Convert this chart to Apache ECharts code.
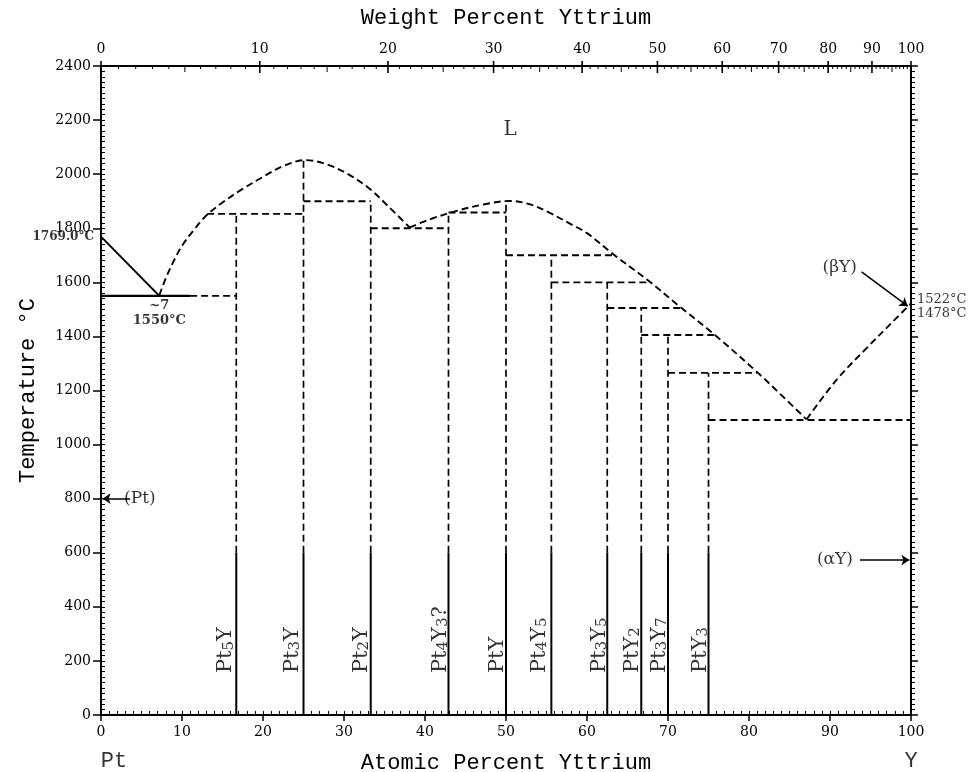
<!DOCTYPE html>
<html>
<head>
<meta charset="utf-8">
<title>Pt-Y phase diagram</title>
<script src="https://cdn.jsdelivr.net/npm/echarts@6/dist/echarts.min.js"></script>
<style>
  html, body { margin: 0; padding: 0; background: #fff; }
  #chart_ptY { width: 979px; height: 772px; }
</style>
</head>
<body>
<div id="chart_ptY"></div>
<script>
  // intermetallic compounds (line compounds), subscripts written as rich text
  const compoundNames = ['Pt{s|5}Y', 'Pt{s|3}Y', 'Pt{s|2}Y', 'Pt{s|4}Y{s|3}?', 'PtY', 'Pt{s|4}Y{s|5}',
                         'Pt{s|3}Y{s|5}', 'PtY{s|2}', 'Pt{s|3}Y{s|7}', 'PtY{s|3}'];
  const compoundX = [16.7, 25, 33.3, 42.9, 50, 55.6, 62.5, 66.7, 70, 75];
  const compoundTop = [1853, 2052, 1900, 1858, 1901, 1700, 1600, 1505, 1405, 1265];
  const compoundLabelX = [15.1, 23.3, 31.8, 41.6, 48.6, 53.8, 61.2, 65.3, 68.6, 73.7];
  const solidBelow = 600;

  // horizontal (invariant) lines
  const invT    = [1550, 1853, 1900, 1800, 1858, 1700, 1600, 1505, 1405, 1265, 1091];
  const invFrom = [11,   13.1, 25,   33.3, 42.9, 50,   55.6, 62.5, 66.7, 70,   75];
  const invTo   = [16.7, 25,   33.3, 42.9, 50,   63.2, 67.8, 71.5, 75.8, 81,   100];

  // liquidus
  const ptLiqX = [0, 7.2];
  const ptLiqT = [1769, 1550];
  const liq1X = [7.2, 8, 9, 10, 11.5, 13.1, 15, 17.2, 20, 22.5, 25.3, 28, 30.5, 33, 35.5, 38.1];
  const liq1T = [1552, 1615, 1680, 1735, 1795, 1850, 1895, 1940, 1990, 2030, 2052, 2035, 2000, 1950, 1880, 1803];
  const liq2X = [38.1, 40.5, 43.9, 47.2, 50.5, 53, 55.4, 58, 60, 63.2, 67.8, 71.5, 75.8, 81, 84, 87.1];
  const liq2T = [1803, 1832, 1864, 1888, 1901, 1888, 1857, 1815, 1782, 1705, 1601, 1509, 1405, 1268, 1183, 1093];
  const liq3X = [87.1, 90.8, 94.3, 99, 100];
  const liq3T = [1093, 1239, 1350, 1492, 1522];

  // top axis: weight percent ticks
  const wtTicks = [];
  for (let w = 0; w <= 100; w++) wtTicks.push(w);
  const massPt = 195.08, massY = 88.906;
  function atFromWt(w) {
    const y = w / massY, p = (100 - w) / massPt;
    return 100 * y / (y + p);
  }

  const serif = '"DejaVu Serif", serif';
  const mono = '"Liberation Mono", "DejaVu Sans Mono", monospace';
  const dash = [7, 4];

  function seg(points, type, width) {
    return {
      type: 'line', data: points, symbol: 'none', silent: true, animation: false,
      lineStyle: { color: '#000', width: width, type: type }
    };
  }
  const zip = (xs, ts) => xs.map((x, i) => [x, ts[i]]);

  let series = [];
  series.push(seg(zip(ptLiqX, ptLiqT), 'solid', 2));
  series.push(seg([[0, 1550], [invFrom[0], 1550]], 'solid', 2.2));
  compoundX.forEach((x, i) => {
    series.push(seg([[x, 0], [x, solidBelow]], 'solid', 2));
    series.push(seg([[x, solidBelow], [x, compoundTop[i]]], dash, 1.7));
  });
  invT.forEach((t, i) => {
    series.push(seg([[invFrom[i], t], [invTo[i], t]], dash, 1.9));
  });
  [zip(liq1X, liq1T), zip(liq2X, liq2T), zip(liq3X, liq3T)].forEach(d => {
    const s = seg(d, dash, 1.9);
    s.smooth = 0.35;
    series.push(s);
  });

  // compound labels
  series.push({
    type: 'scatter', symbolSize: 0, silent: true, animation: false,
    data: compoundNames.map((n, i) => ({ name: n, value: [compoundLabelX[i], 155] })),
    label: {
      show: true, position: 'inside', rotate: 90,
      align: 'left', verticalAlign: 'middle',
      formatter: p => p.name.split('{').map((t, k) => {
        if (k === 0) return '{n|' + t + '}';
        const parts = t.split('}');
        return '{' + parts[0] + '}' + (parts[1] ? '{n|' + parts[1] + '}' : '');
      }).join(''),
      rich: {
        n: { fontFamily: serif, fontSize: 21, color: '#000', lineHeight: 26, verticalAlign: 'bottom' },
        s: { fontFamily: serif, fontSize: 15, color: '#000', lineHeight: 12, verticalAlign: 'bottom' }
      }
    }
  });

  // annotations
  const notes = [
    { name: 'L', value: [50.5, 2165], label: { fontSize: 20 } },
    { name: '1769.0°C', value: [0, 1769], label: { position: 'left', distance: 7, fontSize: 12, fontWeight: 'bold' } },
    { name: '~7\n1550°C', value: [7.2, 1550], label: { position: 'bottom', distance: 2, fontSize: 13, lineHeight: 15, fontWeight: 'bold' } },
    { name: '1522°C', value: [100, 1535], label: { position: 'right', distance: 6, fontSize: 13 } },
    { name: '1478°C', value: [100, 1483], label: { position: 'right', distance: 6, fontSize: 13 } },
    { name: '(Pt)', value: [4.8, 802], label: { fontSize: 17 } },
    { name: '(βY)', value: [91.2, 1653], label: { fontSize: 17 } },
    { name: '(αY)', value: [90.6, 573], label: { fontSize: 17 } },
    { name: 'Pt', value: [1.6, 0], label: { position: 'bottom', distance: 35, fontSize: 22, fontFamily: mono } },
    { name: 'Y', value: [100, 0], label: { position: 'bottom', distance: 35, fontSize: 22, fontFamily: mono } }
  ];
  series.push({
    type: 'scatter', symbolSize: 0, silent: true, animation: false, clip: false,
    data: notes,
    label: { show: true, formatter: '{b}', position: 'inside', fontFamily: serif, color: '#000' }
  });

  // arrows
  series.push({
    type: 'lines', coordinateSystem: 'cartesian2d', silent: true, animation: false,
    symbol: ['none', 'arrow'], symbolSize: 8,
    lineStyle: { color: '#000', width: 1.5, opacity: 1, curveness: 0 },
    data: [
      { coords: [[3.6, 800], [0.2, 800]] },
      { coords: [[93.7, 573], [99.8, 573]] },
      { coords: [[93.9, 1639], [99.6, 1512]] }
    ]
  });

  // top weight-percent ticks
  series.push({
    type: 'custom', silent: true, animation: false, clip: false,
    data: wtTicks.map(w => [w, 2400]),
    renderItem: function (params, api) {
      const w = api.value(0);
      const p = api.coord([atFromWt(w), 2400]);
      const major = w % 10 === 0, mid = w % 5 === 0;
      const children = [{
        type: 'line',
        shape: { x1: p[0], y1: p[1] - (major ? 5 : 0), x2: p[0], y2: p[1] + (major ? 7 : mid ? 6 : 3) },
        style: { stroke: '#000', lineWidth: major ? 1.6 : 1 }
      }];
      if (major) {
        children.push({
          type: 'text',
          style: { text: String(w), x: p[0], y: p[1] - 10, align: 'center', verticalAlign: 'bottom',
                   fontFamily: serif, fontSize: 14, fill: '#000' }
        });
      }
      return { type: 'group', children: children };
    }
  });

  const axisLine = { show: true, onZero: false, lineStyle: { color: '#000', width: 2 } };
  const noLine = { show: false };

  const chart = echarts.init(document.getElementById('chart_ptY'));
  chart.setOption({
    animation: false,
    backgroundColor: '#fff',
    grid: { left: 101, right: 68, top: 66, bottom: 57, containLabel: false, outerBoundsMode: 'none' },
    xAxis: [
      {
        type: 'value', position: 'bottom', min: 0, max: 100, interval: 10,
        axisLine: axisLine,
        axisTick: { show: true, length: 6, lineStyle: { color: '#000', width: 1.5 } },
        axisLabel: { color: '#000', fontFamily: serif, fontSize: 14, margin: 10 },
        splitLine: { show: false },
        name: 'Atomic Percent Yttrium', nameLocation: 'middle', nameGap: 37,
        nameTextStyle: { color: '#000', fontFamily: mono, fontSize: 22 }
      },
      {
        type: 'value', position: 'bottom', min: 0, max: 100, interval: 1,
        axisLine: noLine,
        axisTick: { show: true, inside: true, length: 4, lineStyle: { color: '#000', width: 1 } },
        axisLabel: { show: false }, splitLine: { show: false }
      },
      {
        type: 'value', position: 'top', min: 0, max: 100,
        axisLine: axisLine, axisTick: { show: false }, axisLabel: { show: false },
        splitLine: { show: false },
        name: 'Weight Percent Yttrium', nameLocation: 'middle', nameGap: 37,
        nameTextStyle: { color: '#000', fontFamily: mono, fontSize: 22 }
      }
    ],
    yAxis: [
      {
        type: 'value', position: 'left', min: 0, max: 2400, interval: 200,
        axisLine: axisLine,
        axisTick: { show: true, length: 8, lineStyle: { color: '#000', width: 1.5 } },
        axisLabel: { color: '#000', fontFamily: serif, fontSize: 14, margin: 10, formatter: v => String(v) },
        splitLine: { show: false },
        name: 'Temperature °C', nameLocation: 'middle', nameGap: 62,
        nameTextStyle: { color: '#000', fontFamily: mono, fontSize: 22 }
      },
      {
        type: 'value', position: 'left', min: 0, max: 2400, interval: 20,
        axisLine: noLine,
        axisTick: { show: true, inside: true, length: 4, lineStyle: { color: '#000', width: 1 } },
        axisLabel: { show: false }, splitLine: { show: false }
      },
      {
        type: 'value', position: 'right', min: 0, max: 2400, interval: 200,
        axisLine: axisLine,
        axisTick: { show: true, length: 7, lineStyle: { color: '#000', width: 1.5 } },
        minorTick: { show: true, splitNumber: 10, length: 4, lineStyle: { color: '#000', width: 1 } },
        axisLabel: { show: false }, splitLine: { show: false }
      }
    ],
    series: series
  });
</script>
</body>
</html>
